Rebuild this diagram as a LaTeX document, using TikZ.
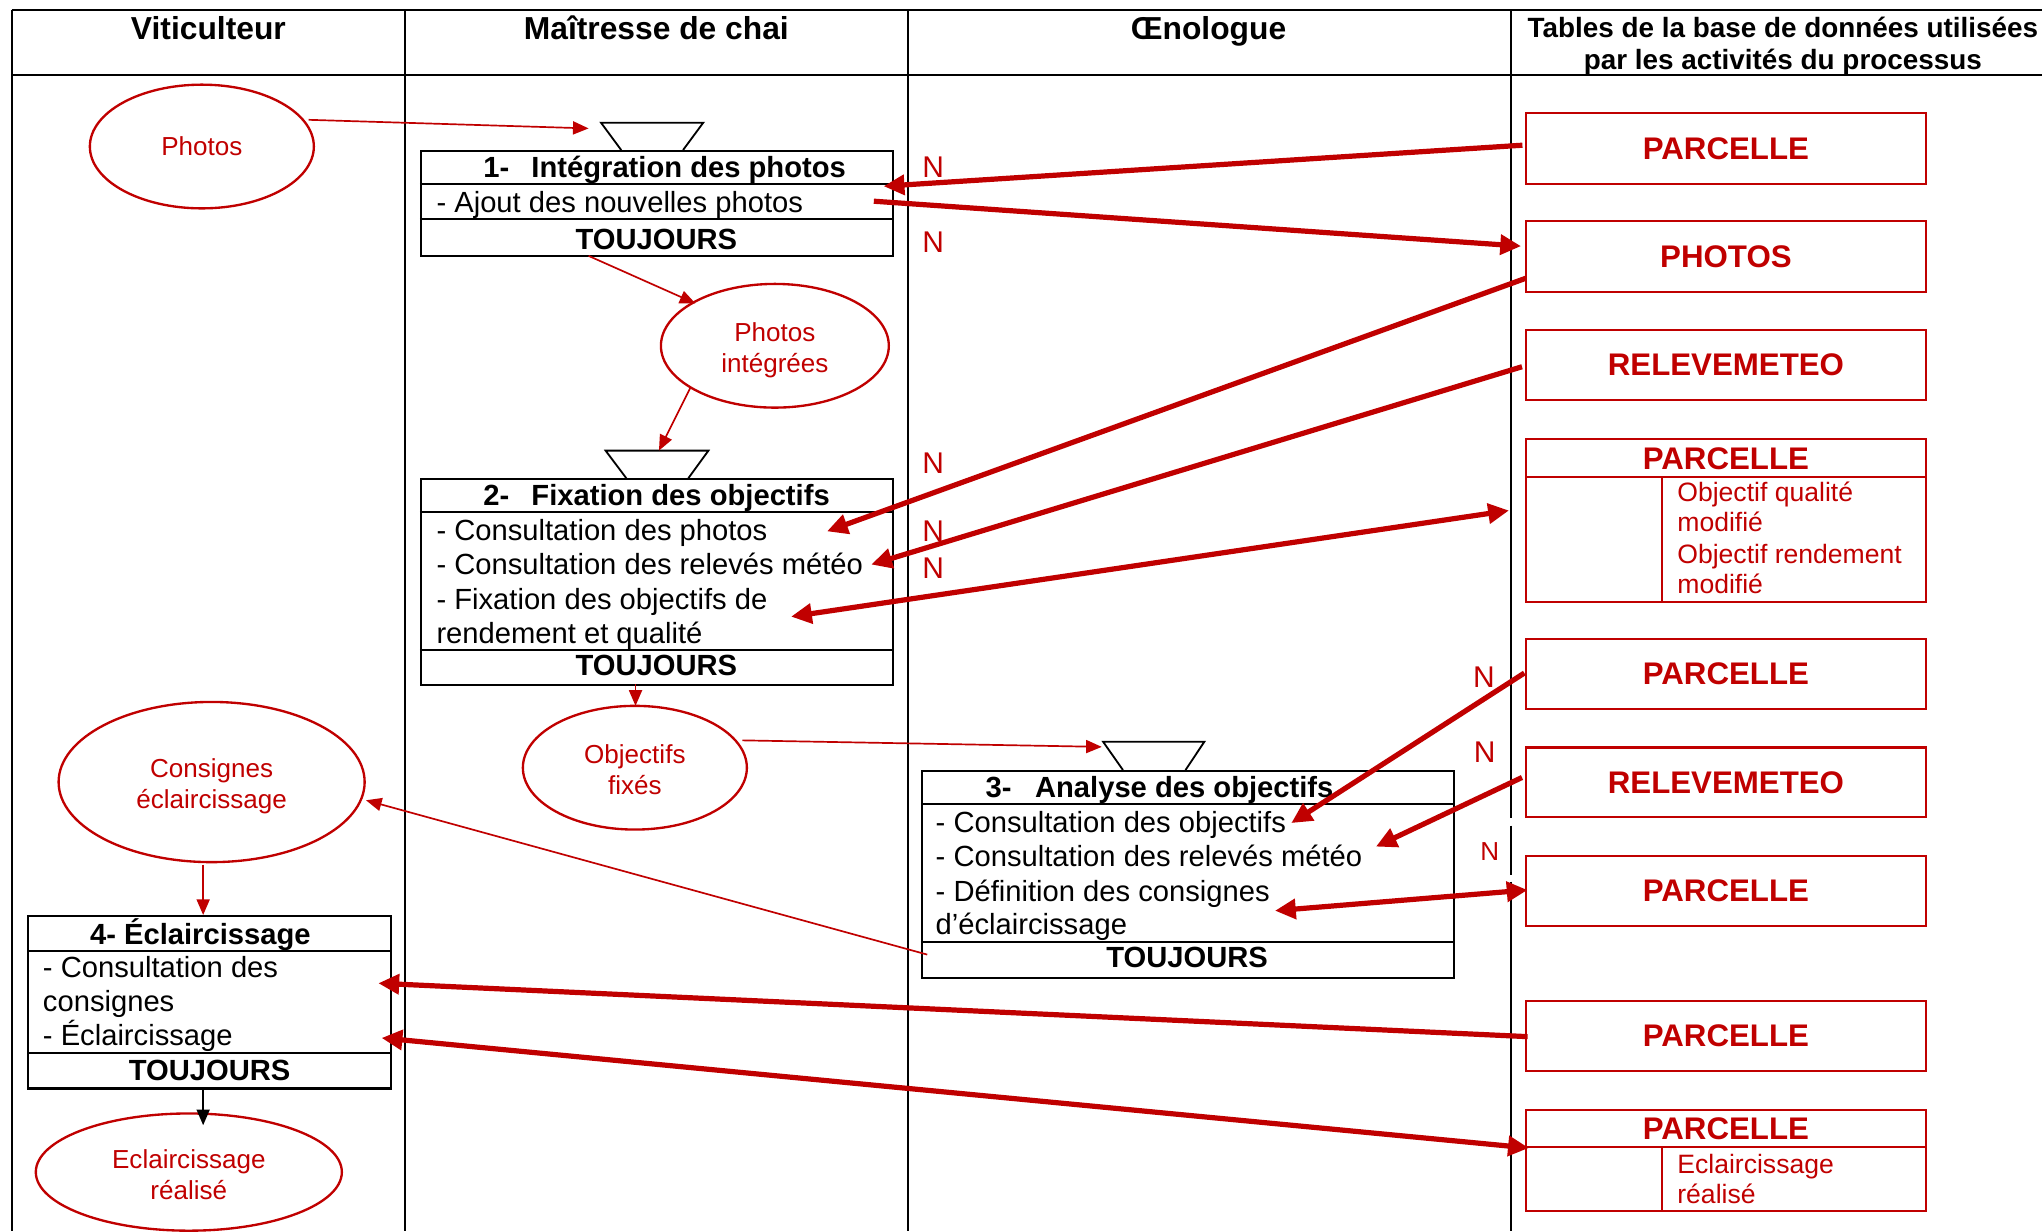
\documentclass[tikz,border=0pt]{standalone}
\usepackage{fontspec}
\setmainfont{Liberation Sans}
\usetikzlibrary{arrows.meta,shapes.geometric}
\definecolor{dred}{RGB}{192,0,0}
\begin{document}
\begin{tikzpicture}[x=1pt,y=-1pt,
  lanerule/.style={line width=1.5pt,black},
  pbox/.style={draw=black,line width=1.6pt,inner sep=0pt},
  boxrule/.style={line width=1.6pt,black},
  funnel/.style={line width=1.4pt,black},
  body/.style={anchor=base west,inner sep=0pt,font=\fontsize{22.4pt}{26pt}\selectfont},
  boldc/.style={anchor=base,inner sep=0pt,font=\bfseries\fontsize{22.4pt}{26pt}\selectfont},
  boldw/.style={anchor=base west,inner sep=0pt,font=\bfseries\fontsize{22.4pt}{26pt}\selectfont},
  hdr/.style={anchor=base,inner sep=0pt,font=\bfseries\fontsize{24.4pt}{29pt}\selectfont},
  hdrs/.style={anchor=base,inner sep=0pt,font=\bfseries\fontsize{21.4pt}{25pt}\selectfont},
  event/.style={ellipse,draw=dred,line width=1.8pt,text=dred,align=center,inner sep=0pt,font=\fontsize{20pt}{24pt}\selectfont},
  tbl/.style={draw=dred,line width=1.6pt,text=dred,inner sep=0pt,minimum width=307.2pt,font=\bfseries\fontsize{24pt}{29pt}\selectfont},
  tblrule/.style={draw=dred,line width=1.6pt},
  tbltitle/.style={anchor=base,inner sep=0pt,text=dred,font=\bfseries\fontsize{24pt}{29pt}\selectfont},
  attr/.style={anchor=base west,inner sep=0pt,text=dred,font=\fontsize{20.4pt}{24pt}\selectfont},
  nlab/.style={inner sep=0pt,text=dred,font=\fontsize{23pt}{27pt}\selectfont},
  flow/.style={draw=dred,line width=1.3pt,-{Triangle[length=12pt,width=10pt]}},
  flowk/.style={draw=black,line width=1.3pt,-{Triangle[length=12pt,width=10pt]}},
  data/.style={draw=dred,line width=4pt,-{Triangle[length=16pt,width=15pt]}},
  datab/.style={draw=dred,line width=4pt,{Triangle[length=16pt,width=15pt]}-{Triangle[length=16pt,width=15pt]}},
]
\useasboundingbox (0,0) rectangle (1568,945.3);
% ---------- swimlanes ----------
\draw[lanerule] (9,8) -- (1568,8);
\draw[lanerule] (9,57.5) -- (1568,57.5);
\draw[lanerule] (9,8) -- (9,945.3);
\draw[lanerule] (311,8) -- (311,945.3);
\draw[lanerule] (697,8) -- (697,945.3);
\draw[lanerule] (1160,8) -- (1160,628) (1160,634) -- (1160,672) (1160,677) -- (1160,945.3);
\node[hdr] (h1) at (160,30.7) {Viticulteur};
\node[hdr] (h2) at (504,30.7) {Maîtresse de chai};
\node[hdr] (h3) at (928,30.7) {Œnologue};
\node[hdrs] (h4a) at (1369,28.5) {Tables de la base de données utilisées};
\node[hdrs] (h4b) at (1369,53.5) {par les activités du processus};

% ---------- process 1 ----------
\draw[funnel] (477,115.2) -- (461.5,94.2) -- (540,94.2) -- (524.5,115.2);
\node[pbox,anchor=north west,minimum width=362.5pt,minimum height=80.8pt] (b1) at (322.5,115.2) {};
\draw[boxrule] (322.5,141.3) -- (685,141.3) (322.5,168.2) -- (685,168.2);
\node[boldw] (b1t) at (371,136.3) {1-\hspace{17pt}Intégration des photos};
\node[body] (b1a) at (335,163.2) {- Ajout des nouvelles photos};
\node[boldc] (b1f) at (504,191.3) {TOUJOURS};

% ---------- process 2 ----------
\draw[funnel] (481,367.3) -- (465,346) -- (544,346) -- (528.5,367.3);
\node[pbox,anchor=north west,minimum width=362.5pt,minimum height=158.2pt] (b2) at (322.5,367.3) {};
\draw[boxrule] (322.5,393.4) -- (685,393.4) (322.5,499.1) -- (685,499.1);
\node[boldw] (b2t) at (371,388.4) {2-\hspace{17pt}Fixation des objectifs};
\node[body] (b2a) at (335,415.3) {- Consultation des photos};
\node[body] (b2b) at (335,441.4) {- Consultation des relevés météo};
\node[body] (b2c) at (335,467.8) {- Fixation des objectifs de};
\node[body] (b2d) at (335,494.1) {rendement et qualité};
\node[boldc] (b2f) at (504,519) {TOUJOURS};

% ---------- process 3 ----------
\draw[funnel] (862.3,591.3) -- (847,569.5) -- (924.8,569.5) -- (910.3,591.3);
\node[pbox,anchor=north west,minimum width=408.7pt,minimum height=158.7pt] (b3) at (707.2,591.3) {};
\draw[boxrule] (707.2,617.4) -- (1115.9,617.4) (707.2,723.1) -- (1115.9,723.1);
\node[boldw] (b3t) at (756.7,612.3) {3-\hspace{18pt}Analyse des objectifs};
\node[body] (b3a) at (718.3,639.3) {- Consultation des objectifs};
\node[body] (b3b) at (718.3,665.7) {- Consultation des relevés météo};
\node[body] (b3c) at (718.3,692.3) {- Définition des consignes};
\node[body] (b3d) at (718.3,717.4) {d’éclaircissage};
\node[boldc] (b3f) at (911.5,743) {TOUJOURS};

% ---------- process 4 ----------
\node[pbox,anchor=north west,minimum width=278.5pt,minimum height=132.4pt] (b4) at (21,702.6) {};
\draw[boxrule] (21,730.3) -- (299.5,730.3) (21,808.8) -- (299.5,808.8);
\node[boldw] (b4t) at (69,725) {4- Éclaircissage};
\node[body] (b4a) at (32.8,750.7) {- Consultation des};
\node[body] (b4b) at (32.8,776.7) {consignes};
\node[body] (b4c) at (32.8,803) {- Éclaircissage};
\node[boldc] (b4f) at (161,830) {TOUJOURS};

% ---------- events ----------
\node[event,minimum width=172pt,minimum height=95pt] (e1) at (155,112.5) {Photos};
\node[event,minimum width=175pt,minimum height=95pt] (e2) at (595,265.5) {\rule{0pt}{21.5pt}Photos\\intégrées};
\node[event,minimum width=172pt,minimum height=95pt] (e3) at (487.5,589.5) {\rule{0pt}{17pt}Objectifs\\fixés};
\node[event,minimum width=235pt,minimum height=123pt] (e4) at (162.5,600.5) {\rule{0pt}{21pt}Consignes\\éclaircissage};
\node[event,minimum width=235pt,minimum height=90pt] (e5) at (145,900) {\rule{0pt}{19pt}Eclaircissage\\réalisé};

% ---------- tables ----------
\node[tbl,minimum height=54.8pt] (t1) at (1325.3,113.9) {PARCELLE};
\node[tbl,minimum height=54pt] (t2) at (1325.3,197) {PHOTOS};
\node[tbl,minimum height=53.8pt] (t3) at (1325.3,280.3) {RELEVEMETEO};
\node[tbl,anchor=north,minimum height=124.7pt] (t4) at (1325.3,336.6) {};
\draw[tblrule] (1171.7,366) -- (1478.9,366) (1276.1,366) -- (1276.1,461.3);
\node[tbltitle] (t4t) at (1325.3,360.4) {PARCELLE};
\node[attr] (t4a) at (1287.8,385.2) {Objectif qualité};
\node[attr] (t4b) at (1287.8,408.3) {modifié};
\node[attr] (t4c) at (1287.8,432.6) {Objectif rendement};
\node[attr] (t4d) at (1287.8,456.1) {modifié};
\node[tbl,minimum height=53.8pt] (t5) at (1325.3,517.6) {PARCELLE};
\node[tbl,minimum height=53.6pt] (t6) at (1325.3,600.8) {RELEVEMETEO};
\node[tbl,minimum height=54pt] (t7) at (1325.3,684) {PARCELLE};
\node[tbl,minimum height=53.3pt] (t8) at (1325.3,795.4) {PARCELLE};
\node[tbl,anchor=north,minimum height=77.9pt] (t9) at (1325.3,851.3) {};
\draw[tblrule] (1171.7,880.5) -- (1478.9,880.5) (1276.1,880.5) -- (1276.1,929.2);
\node[tbltitle] (t9t) at (1325.3,875) {PARCELLE};
\node[attr] (t9a) at (1287.8,901) {Eclaircissage};
\node[attr] (t9b) at (1287.8,924) {réalisé};

% ---------- N labels ----------
\node[nlab] (n1) at (716.5,128) {N};
\node[nlab] (n2) at (716.5,185.6) {N};
\node[nlab] (n3) at (716.5,355.8) {N};
\node[nlab] (n4) at (716.5,407.6) {N};
\node[nlab] (n5) at (716.5,436.4) {N};
\node[nlab] (n6) at (1139.5,520) {N};
\node[nlab] (n7) at (1140,577.5) {N};
\node[nlab,font=\fontsize{20pt}{24pt}\selectfont] (n8) at (1144,654) {N};

% ---------- connector end points ----------
\coordinate (f1s) at (237,92);     \coordinate (f1e) at (452,98.6);
\coordinate (f2s) at (452,196.5);  \coordinate (f2e) at (534,233);
\coordinate (f3s) at (530,298);    \coordinate (f3e) at (506,346);
\coordinate (f4s) at (488,525.5);  \coordinate (f4e) at (488,542);
\coordinate (f5s) at (570,568.5);  \coordinate (f5e) at (846,573.5);
\coordinate (f6s) at (712,733);    \coordinate (f6e) at (281,614.5);
\coordinate (f7s) at (156,664);    \coordinate (f7e) at (156,702.6);
\coordinate (f8s) at (156,835.5);  \coordinate (f8e) at (156,864);

\coordinate (d1s) at (1169,111.5); \coordinate (d1e) at (678.5,143);
\coordinate (d2s) at (671,154.5);  \coordinate (d2e) at (1168,189);
\coordinate (d3s) at (1171.5,213.7); \coordinate (d3e) at (635,408);
\coordinate (d4s) at (1168.7,281.6); \coordinate (d4e) at (669,433.5);
\coordinate (d5s) at (607.4,473.5); \coordinate (d5e) at (1158.7,392);
\coordinate (d6s) at (1170.5,516.8); \coordinate (d6e) at (991.5,632);
\coordinate (d7s) at (1168.7,597);  \coordinate (d7e) at (1056.5,650.1);
\coordinate (d8s) at (979,699.3);   \coordinate (d8e) at (1173,683.4);
\coordinate (d9s) at (1173,796);    \coordinate (d9e) at (290.5,755);
\coordinate (d10s) at (293,797);    \coordinate (d10e) at (1174,881.5);

% ---------- flow connectors ----------
\draw[flow] (f1s) -- (f1e);
\draw[flow] (f2s) -- (f2e);
\draw[flow] (f3s) -- (f3e);
\draw[flow] (f4s) -- (f4e);
\draw[flow] (f5s) -- (f5e);
\draw[flow] (f6s) -- (f6e);
\draw[flow] (f7s) -- (f7e);
\draw[flowk] (f8s) -- (f8e);

% ---------- data connectors ----------
\draw[data] (d1s) -- (d1e);
\draw[data] (d2s) -- (d2e);
\draw[data] (d3s) -- (d3e);
\draw[data] (d4s) -- (d4e);
\draw[datab] (d5s) -- (d5e);
\draw[data] (d6s) -- (d6e);
\draw[data] (d7s) -- (d7e);
\draw[datab] (d8s) -- (d8e);
\draw[data] (d9s) -- (d9e);
\draw[datab] (d10s) -- (d10e);
\end{tikzpicture}
\end{document}
